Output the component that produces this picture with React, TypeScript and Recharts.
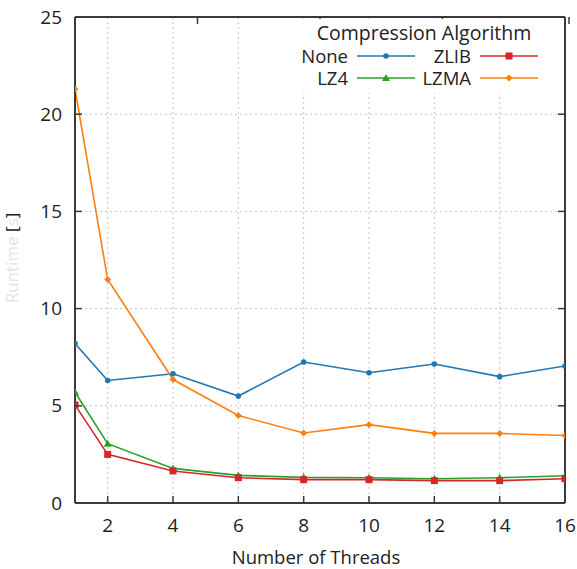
import React from "react";
import { LineChart, Line, XAxis, YAxis, CartesianGrid } from "recharts";

const threads = [1, 2, 4, 6, 8, 10, 12, 14, 16];
const noneTimes = [8.2, 6.3, 6.65, 5.5, 7.25, 6.7, 7.15, 6.5, 7.05];
const zlibTimes = [5.05, 2.5, 1.65, 1.3, 1.2, 1.2, 1.15, 1.15, 1.25];
const lz4Times = [5.7, 3.05, 1.78, 1.42, 1.32, 1.3, 1.25, 1.3, 1.4];
const lzmaTimes = [21.3, 11.5, 6.35, 4.5, 3.6, 4.03, 3.58, 3.58, 3.47];

const xTicks = [2, 4, 6, 8, 10, 12, 14, 16];
const yTicks = [0, 5, 10, 15, 20, 25];

const FONT = "'Open Sans', 'Noto Sans', sans-serif";
const AXIS = "#3a3a3a";
const TEXT = "#222";

const COLORS = {
  none: "#1f77b4",
  zlib: "#d62728",
  lz4: "#2ca02c",
  lzma: "#ff7f0e",
};

const data = threads.map((t, i) => ({
  threads: t,
  none: noneTimes[i],
  zlib: zlibTimes[i],
  lz4: lz4Times[i],
  lzma: lzmaTimes[i],
}));

type Shape = "circle" | "square" | "triangle" | "diamond";

function Marker({ cx, cy, color, shape }: { cx: number; cy: number; color: string; shape: Shape }) {
  if (cx == null || cy == null) return null;
  if (shape === "square") return <rect x={cx - 3.5} y={cy - 3.5} width={7} height={7} fill={color} />;
  if (shape === "triangle")
    return <polygon points={`${cx},${cy - 4} ${cx - 4},${cy + 3} ${cx + 4},${cy + 3}`} fill={color} />;
  if (shape === "diamond")
    return <polygon points={`${cx},${cy - 3.5} ${cx + 3.5},${cy} ${cx},${cy + 3.5} ${cx - 3.5},${cy}`} fill={color} />;
  return <circle cx={cx} cy={cy} r={2.8} fill={color} />;
}

const dotFor = (color: string, shape: Shape) => (props: any) => (
  <Marker key={`${shape}-${props.index}`} cx={props.cx} cy={props.cy} color={color} shape={shape} />
);

const BottomTick = ({ x, y, payload }: any) => (
  <g>
    <line x1={x} x2={x} y1={y} y2={y - 7} stroke={AXIS} strokeWidth={1.5} />
    <text x={x} y={y + 29} textAnchor="middle" fontSize={19} fill={TEXT} fontFamily={FONT}>
      {payload.value}
    </text>
  </g>
);

const TopTick = ({ x, y }: any) => (
  <line x1={x} x2={x} y1={y} y2={y + 7} stroke={AXIS} strokeWidth={1.5} />
);

const LeftTick = ({ x, y, payload }: any) => (
  <g>
    <line x1={x} x2={x + 7} y1={y} y2={y} stroke={AXIS} strokeWidth={1.5} />
    <text x={x - 13} y={y + 6.5} textAnchor="end" fontSize={19} fill={TEXT} fontFamily={FONT}>
      {payload.value}
    </text>
  </g>
);

const RightTick = ({ x, y }: any) => (
  <line x1={x} x2={x - 7} y1={y} y2={y} stroke={AXIS} strokeWidth={1.5} />
);

const legendItems: { key: keyof typeof COLORS; label: string; shape: Shape }[] = [
  { key: "none", label: "None", shape: "circle" },
  { key: "zlib", label: "ZLIB", shape: "square" },
  { key: "lz4", label: "LZ4", shape: "triangle" },
  { key: "lzma", label: "LZMA", shape: "diamond" },
];

function LegendBox() {
  return (
    <svg
      width={268}
      height={74}
      style={{ position: "absolute", left: 292, top: 19, background: "#fff" }}
      fontFamily={FONT}
    >
      <text x={132} y={21} textAnchor="middle" fontSize={19.5} fill={TEXT}>
        Compression Algorithm
      </text>
      {legendItems.map((item, i) => {
        const col = i % 2;
        const row = Math.floor(i / 2);
        const textRight = col === 0 ? 56 : 179;
        const lineX1 = textRight + 9;
        const lineX2 = lineX1 + 58;
        const cy = 37 + row * 22;
        return (
          <g key={item.key}>
            <text x={textRight} y={cy + 6.5} textAnchor="end" fontSize={18.5} fill={TEXT}>
              {item.label}
            </text>
            <line x1={lineX1} x2={lineX2} y1={cy} y2={cy} stroke={COLORS[item.key]} strokeWidth={1.5} />
            <Marker cx={(lineX1 + lineX2) / 2} cy={cy} color={COLORS[item.key]} shape={item.shape} />
          </g>
        );
      })}
    </svg>
  );
}

const YLabel = ({ viewBox }: any) => {
  const cy = viewBox ? viewBox.y + viewBox.height / 2 - 2 : 259;
  return (
    <text
      x={0}
      y={0}
      transform={`translate(18, ${cy}) rotate(-90)`}
      textAnchor="middle"
      fontSize={17}
      fontFamily={FONT}
      fill="#e3e3e3"
    >
      Runtime <tspan fill="#222">[</tspan>s<tspan fill="#222">]</tspan>
    </text>
  );
};

const XLabel = ({ viewBox }: any) => {
  const x = viewBox ? viewBox.x + viewBox.width / 2 - 4 : 316;
  const y = viewBox ? viewBox.y + 61 : 564;
  return (
    <text x={x} y={y} textAnchor="middle" fontSize={18.5} fontFamily={FONT} fill={TEXT}>
      Number of Threads
    </text>
  );
};

export default function App() {
  return (
    <div style={{ position: "absolute", left: 0, top: 0, width: 577, height: 569, background: "#fff" }}>
      <LineChart
        width={577}
        height={569}
        data={data}
        margin={{ top: 0, right: 0, bottom: 0, left: 0 }}
        style={{ fontFamily: FONT }}
      >
        <CartesianGrid stroke="#c4c4c4" strokeDasharray="2 3" />
        <XAxis
          dataKey="threads"
          type="number"
          domain={[1, 16]}
          ticks={xTicks}
          allowDataOverflow
          height={66}
          tickSize={0}
          tickMargin={0}
          tickLine={false}
          tick={<BottomTick />}
          axisLine={{ stroke: AXIS, strokeWidth: 2 }}
          label={<XLabel />}
        />
        <XAxis
          xAxisId="top"
          orientation="top"
          type="number"
          domain={[1, 16]}
          ticks={xTicks}
          allowDataOverflow
          height={17}
          tickSize={0}
          tickMargin={0}
          tickLine={false}
          tick={<TopTick />}
          axisLine={{ stroke: AXIS, strokeWidth: 2 }}
        />
        <YAxis
          type="number"
          domain={[0, 25]}
          ticks={yTicks}
          allowDataOverflow
          width={75}
          tickSize={0}
          tickMargin={0}
          tickLine={false}
          tick={<LeftTick />}
          axisLine={{ stroke: AXIS, strokeWidth: 2 }}
          label={<YLabel />}
        />
        <YAxis
          yAxisId="right"
          orientation="right"
          type="number"
          domain={[0, 25]}
          ticks={yTicks}
          allowDataOverflow
          width={12}
          tickSize={0}
          tickMargin={0}
          tickLine={false}
          tick={<RightTick />}
          axisLine={{ stroke: AXIS, strokeWidth: 2 }}
        />
        <Line dataKey="none" stroke={COLORS.none} strokeWidth={1.6} dot={dotFor(COLORS.none, "circle")} isAnimationActive={false} />
        <Line dataKey="lzma" stroke={COLORS.lzma} strokeWidth={1.6} dot={dotFor(COLORS.lzma, "diamond")} isAnimationActive={false} />
        <Line dataKey="lz4" stroke={COLORS.lz4} strokeWidth={1.6} dot={dotFor(COLORS.lz4, "triangle")} isAnimationActive={false} />
        <Line dataKey="zlib" stroke={COLORS.zlib} strokeWidth={1.6} dot={dotFor(COLORS.zlib, "square")} isAnimationActive={false} />
      </LineChart>
      <LegendBox />
    </div>
  );
}
